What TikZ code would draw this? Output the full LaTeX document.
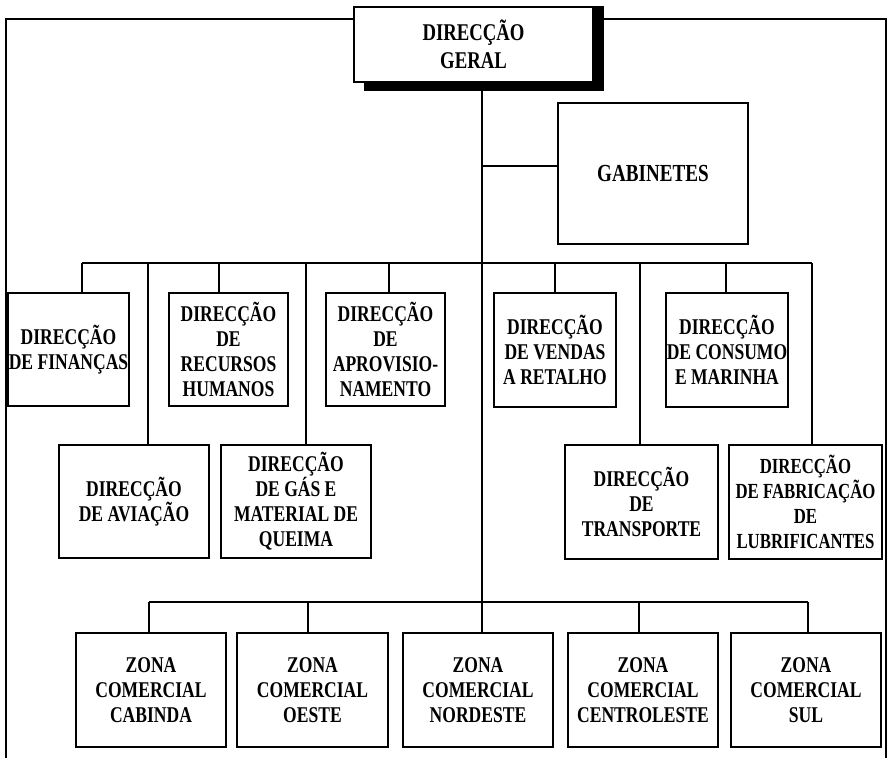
\documentclass[tikz,border=0pt]{standalone}
\usepackage{fontspec}
\setmainfont[FakeStretch=0.78]{Liberation Serif}
\begin{document}
\begin{tikzpicture}[x=1pt,y=-1pt,
  unit/.style={draw, line width=1.3pt, fill=white, align=center, inner sep=0pt,
    minimum height=113pt, font=\fontsize{22.5}{25}\selectfont\bfseries},
  zone/.style={unit, minimum width=150pt, minimum height=114pt},
  link/.style={line width=1.2pt},
  busline/.style={line width=2pt},
  frameline/.style={line width=1.6pt}]
\useasboundingbox (0,0) rectangle (895,758);

% head office with its solid drop shadow
\node[unit, minimum width=239pt, minimum height=75pt,
  font=\fontsize{24}{28}\selectfont\bfseries] (dg) at (473.5,44.5) {DIRECÇÃO\\GERAL};
\fill ([xshift=0.6pt]dg.north east) rectangle ([xshift=10pt,yshift=-8pt]dg.south east);
\fill ([xshift=11pt,yshift=-0.6pt]dg.south west) rectangle ([xshift=10pt,yshift=-8pt]dg.south east);
\coordinate (sh) at ([xshift=10pt]dg.east);

% staff office
\node[unit, minimum width=190pt, minimum height=141pt,
  font=\fontsize{24.5}{28}\selectfont\bfseries] (gab) at (653,173.5) {GABINETES};

% first row of directorates
\node[unit, minimum width=121pt] (fin) at (68.5,349.5) {DIRECÇÃO\\DE FINANÇAS};
\node[unit, minimum width=119pt] (rh)  at (228.5,349.5) {DIRECÇÃO\\DE\\RECURSOS\\HUMANOS};
\node[unit, minimum width=119pt] (apr) at (385.5,349.5) {DIRECÇÃO\\DE\\APROVISIO-\\NAMENTO};
\node[unit, minimum width=122pt, minimum height=114pt] (ven) at (555,350) {DIRECÇÃO\\DE VENDAS\\A RETALHO};
\node[unit, minimum width=122pt, minimum height=114pt] (con) at (727,350) {DIRECÇÃO\\DE CONSUMO\\E MARINHA};

% second row of directorates
\node[unit, minimum width=150pt] (avi) at (134,501.5) {DIRECÇÃO\\DE AVIAÇÃO};
\node[unit, minimum width=150pt] (gas) at (296,501.5) {DIRECÇÃO\\DE GÁS E\\MATERIAL DE\\QUEIMA};
\node[unit, minimum width=153pt, minimum height=114pt] (tra) at (641.5,502) {DIRECÇÃO\\DE\\TRANSPORTE};
\node[unit, minimum width=153pt, minimum height=114pt,
  font=\fontsize{21.5}{25}\selectfont\bfseries] (lub) at (805.5,502) {DIRECÇÃO\\DE FABRICAÇÃO\\DE\\LUBRIFICANTES};

% commercial zones
\node[zone] (cab) at (151,690) {ZONA\\COMERCIAL\\CABINDA};
\node[zone, minimum width=151pt] (oes) at (312.5,690) {ZONA\\COMERCIAL\\OESTE};
\node[zone] (nor) at (478,690) {ZONA\\COMERCIAL\\NORDESTE};
\node[zone] (cen) at (643,690) {ZONA\\COMERCIAL\\CENTROLESTE};
\node[zone] (sul) at (806,690) {ZONA\\COMERCIAL\\SUL};

% outer frame
\coordinate (fl) at (6,19);
\coordinate (fr) at (886,19);
\draw[frameline] (6,758) -- (fl) -- (fl -| dg.west);
\draw[frameline] (fr -| sh) -- (fr) -- (886,758);

% main trunk and the staff branch
\coordinate (t-gab) at (482,166);
\coordinate (t-nor) at (482,602);
\draw[link] ([xshift=8.5pt]dg.south) -- (t-nor |- nor.north);
\draw[link] (t-gab) -- (t-gab -| gab.west);

% directorate bus and drops
\foreach \n/\x in {fin/82, avi/148, rh/219, gas/306, apr/389, ven/555, tra/640, con/726, lub/812}{
  \coordinate (t-\n) at (\x,263);
  \draw[link] (t-\n) -- (t-\n |- \n.north);
}
\draw[busline] (t-fin) -- (t-lub);

% zone bus and drops
\foreach \n/\x in {cab/149, oes/308, cen/639, sul/808}{
  \coordinate (t-\n) at (\x,602);
  \draw[link] (t-\n) -- (t-\n |- \n.north);
}
\draw[busline] (t-cab) -- (t-sul);
\end{tikzpicture}
\end{document}
